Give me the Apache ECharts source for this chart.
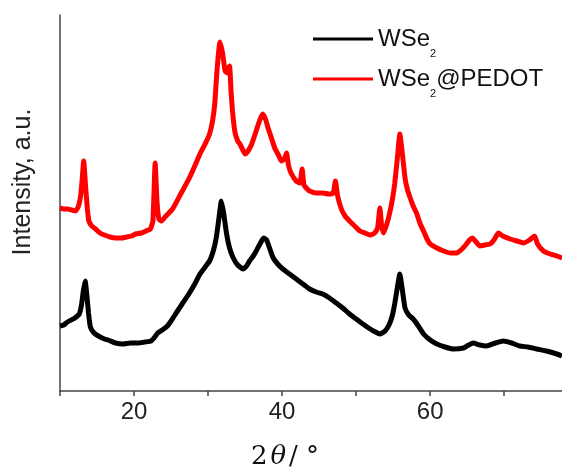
<!DOCTYPE html>
<html>
<head>
<meta charset="utf-8">
<script src="https://cdn.jsdelivr.net/npm/echarts@6/dist/echarts.min.js"></script>
<style>html,body{margin:0;padding:0;background:#fff}#c{width:562px;height:468px}</style>
</head>
<body>
<div id="c"></div>
<script>
// 2θ (degrees), intensity (a.u.)
const wse2 = [
  [10.0,65],[10.5,66],[11.0,69],[11.5,71],[12.0,73],[12.6,77],[12.9,86],[13.15,100],[13.4,110],
  [13.6,98],[13.85,78],[14.1,64],[14.6,58],[15.2,55],[16.0,52],[16.5,51],[17.5,48],[18.5,47],
  [19.5,48],[20.5,48],[21.5,49],[22.3,50],[22.8,54],[23.2,58],[23.6,60],[24.0,62],[24.5,65],
  [25.0,70],[25.6,77],[26.5,87],[27.4,97],[28.2,107],[28.9,117],[29.6,124],[30.2,130],[30.7,140],
  [31.1,153],[31.45,172],[31.8,190],[32.1,178],[32.5,157],[32.9,143],[33.4,133],[34.0,126],
  [34.7,122],[35.2,125],[35.6,130],[36.1,135],[36.5,140],[37.0,147],[37.5,153],[37.9,151],
  [38.3,143],[38.8,133],[39.4,127],[40.1,122],[41.0,117],[41.9,112],[42.8,107],[43.7,102],
  [44.6,99],[45.5,97],[46.4,93],[47.3,88],[48.2,83],[49.1,77],[50.0,72],[50.9,67],[51.9,62],
  [52.6,59],[53.2,57],[53.9,60],[54.5,67],[54.9,76],[55.2,87],[55.55,103],[55.9,117],[56.2,103],
  [56.6,83],[57.1,76],[57.7,72],[58.4,65],[59.1,57],[60.0,51],[60.9,47],[62.0,44],[63.1,42],
  [64.5,43],[65.2,46],[65.8,48],[66.7,46],[67.6,45],[68.8,48],[69.9,50],[71.0,48],[72.1,45],
  [73.2,44],[74.4,42],[75.7,40],[77.1,37],[77.8,35]
];
const wse2Pedot = [
  [10.0,183],[10.5,182],[11.0,182],[11.6,181],[12.1,180],[12.5,185],[12.8,196],[13.0,212],[13.2,230],
  [13.45,205],[13.7,182],[13.9,170],[14.3,165],[14.8,162],[15.4,158],[16.0,156],[16.8,154],[17.5,153],
  [18.3,153],[19.0,154],[19.7,155],[20.2,157],[21.0,158],[21.6,160],[22.2,162],[22.55,170],[22.85,228],
  [23.1,190],[23.35,172],[23.7,170],[24.3,175],[25.2,182],[26.3,197],[27.4,212],[28.2,225],[28.9,237],
  [29.6,247],[30.2,257],[30.6,270],[30.9,287],[31.2,320],[31.6,349],[31.95,338],[32.3,320],[32.6,318],
  [32.9,325],[33.1,300],[33.3,280],[33.6,260],[34.0,250],[34.3,247],[34.7,241],[35.0,237],[35.4,240],
  [35.9,247],[36.4,258],[36.8,267],[37.1,273],[37.4,277],[37.8,271],[38.1,263],[38.6,252],[39.0,243],
  [39.5,236],[39.9,230],[40.3,232],[40.6,238],[40.85,226],[41.2,218],[41.9,210],[42.4,208],[42.7,222],
  [42.95,206],[43.4,202],[43.7,200],[44.6,198],[45.5,198],[46.3,197],[46.9,198],[47.2,210],[47.5,195],
  [48.0,182],[48.5,175],[49.1,170],[49.8,165],[50.5,160],[51.2,158],[51.9,156],[52.5,158],[52.9,163],
  [53.2,183],[53.45,165],[53.7,158],[54.1,166],[54.5,177],[54.9,192],[55.2,207],[55.55,232],[55.9,257],
  [56.2,240],[56.6,213],[56.9,202],[57.3,193],[57.7,185],[58.2,177],[58.6,168],[59.1,160],[59.5,153],
  [60.0,147],[60.9,143],[61.8,140],[62.7,138],[63.6,138],[64.3,142],[64.9,147],[65.3,151],[65.7,153],
  [66.2,149],[66.7,145],[67.4,146],[68.1,147],[68.7,152],[69.2,158],[69.8,155],[70.8,152],[71.7,150],
  [72.6,148],[73.4,151],[74.1,155],[74.5,147],[75.3,140],[76.2,137],[77.1,135],[77.8,133]
];
const xTickLabels = [20, 40, 60];
const seriesNames = ['WSe2', 'WSe2@PEDOT'];

const chart = echarts.init(document.getElementById('c'));
const legendRich = {
  a: { fontSize: 24, lineHeight: 24, fontFamily: 'Liberation Sans, Arial, sans-serif', color: '#111' },
  b: { fontSize: 11, lineHeight: 11, padding: [36, 0, 7, 0], fontFamily: 'Liberation Sans, Arial, sans-serif', color: '#111' }
};
chart.setOption({
  animation: false,
  backgroundColor: '#fff',
  grid: { left: 60, right: 0, top: 15, bottom: 77 },
  legend: {
    orient: 'vertical',
    left: 313,
    top: 12,
    padding: 0,
    icon: 'rect',
    itemWidth: 60,
    itemHeight: 3,
    itemGap: -14,
    data: seriesNames,
    formatter: function (name) {
      return name === 'WSe2' ? '{a|WSe}{b|2}' : '{a|WSe}{b|2}{a|@PEDOT}';
    },
    textStyle: { rich: legendRich }
  },
  xAxis: {
    type: 'value',
    min: 10,
    max: 77.8,
    interval: 10,
    axisLine: { lineStyle: { color: '#444', width: 1.5 } },
    axisTick: { length: 5, lineStyle: { color: '#444', width: 1.5 } },
    splitLine: { show: false },
    axisLabel: {
      margin: 9,
      fontSize: 24,
      color: '#222',
      fontFamily: 'Liberation Sans, Arial, sans-serif',
      showMaxLabel: false,
      formatter: function (v) { return xTickLabels.indexOf(v) >= 0 ? String(v) : ''; }
    }
  },
  yAxis: {
    type: 'value',
    min: 0,
    max: 376,
    axisLine: { show: true, lineStyle: { color: '#444', width: 1.5 } },
    axisTick: { show: false },
    axisLabel: { show: false },
    splitLine: { show: false }
  },
  series: [
    { name: 'WSe2', type: 'line', data: wse2, symbol: 'none', smooth: 0.15, lineStyle: { color: '#000', width: 5 }, itemStyle: { color: '#000' } },
    { name: 'WSe2@PEDOT', type: 'line', data: wse2Pedot, symbol: 'none', smooth: 0.15, lineStyle: { color: '#ff0000', width: 5 }, itemStyle: { color: '#ff0000' } }
  ],
  graphic: [
    {
      type: 'text',
      x: 23, y: 182, rotation: Math.PI / 2,
      style: {
        text: 'Intensity, a.u.',
        fontSize: 25, fontFamily: 'Liberation Sans, Arial, sans-serif',
        fill: '#222', align: 'center', verticalAlign: 'middle'
      }
    },
    {
      type: 'text',
      x: 285, y: 457,
      style: {
        text: '{n|2}{t|θ}{n|/ °}',
        align: 'center', verticalAlign: 'middle',
        rich: {
          n: { fontSize: 26, fontFamily: 'DejaVu Serif, Liberation Serif, serif', fill: '#111' },
          t: { fontSize: 26, fontStyle: 'italic', fontFamily: 'DejaVu Serif, Liberation Serif, serif', fill: '#111', padding: [0, 3, 0, 3] }
        }
      }
    }
  ]
});
</script>
</body>
</html>
